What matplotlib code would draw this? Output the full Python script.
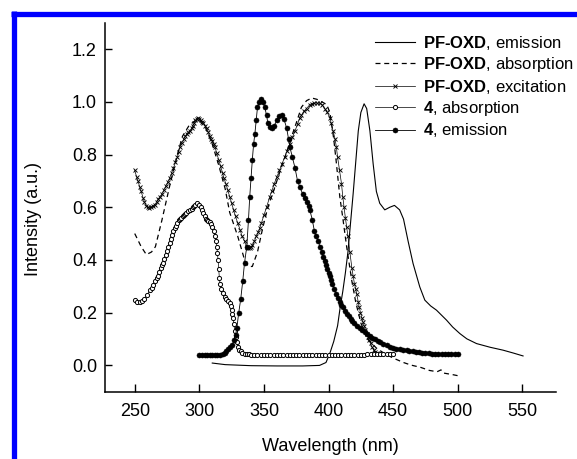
import matplotlib
matplotlib.use("Agg")
import matplotlib.pyplot as plt
from matplotlib.lines import Line2D

plt.rcParams['font.family'] = ['Liberation Sans', 'DejaVu Sans']
plt.rcParams['mathtext.fontset'] = 'custom'
plt.rcParams['mathtext.rm'] = 'Liberation Sans'
plt.rcParams['mathtext.bf'] = 'Liberation Sans:bold'

# PF-OXD, emission
pf_em_x = [310, 320, 340, 360, 380, 393, 398, 401, 404, 407, 409, 411, 413, 415, 417, 419, 421, 423,
           425, 427.5, 429.5, 432, 434.5, 437, 439.6, 443.5, 447.4, 451, 455, 458, 461.6, 465.4, 470.6,
           474.5, 479, 483.5, 491.3, 496, 501.6, 507, 514.5, 525, 535, 543, 550.5]
pf_em_y = [0.008, 0.002, -0.002, -0.003, -0.003, -0.001, 0.01, 0.045, 0.09, 0.15, 0.22, 0.28, 0.35,
           0.43, 0.54, 0.65, 0.77, 0.89, 0.96, 0.993, 0.975, 0.89, 0.765, 0.66, 0.615, 0.59, 0.60,
           0.607, 0.59, 0.555, 0.47, 0.386, 0.297, 0.247, 0.225, 0.209, 0.171, 0.145, 0.12, 0.10,
           0.082, 0.068, 0.057, 0.046, 0.035]

# PF-OXD, absorption
pf_abs_x = [250, 255, 259, 263, 266, 271, 277, 283, 287, 292, 297, 300, 305, 310, 315, 320, 323.5,
            329.7, 335, 338, 341, 345, 349, 353, 358, 362, 367, 371.5, 375, 379, 383, 387, 391, 395,
            398.6, 401, 404, 406, 408.7, 411, 414, 418, 421, 425, 430, 437, 443, 450, 458, 464, 471,
            478, 484, 487, 489, 496, 500]
pf_abs_y = [0.50, 0.45, 0.42, 0.43, 0.45, 0.55, 0.68, 0.80, 0.87, 0.91, 0.93, 0.93, 0.90, 0.84, 0.76,
            0.67, 0.58, 0.49, 0.40, 0.375, 0.375, 0.43, 0.52, 0.60, 0.67, 0.73, 0.80, 0.87, 0.92, 0.98,
            1.005, 1.015, 1.01, 1.0, 0.99, 0.96, 0.86, 0.77, 0.64, 0.56, 0.45, 0.32, 0.24, 0.16, 0.10,
            0.065, 0.045, 0.027, 0.01, 0.0, -0.008, -0.02, -0.025, -0.018, -0.03, -0.036, -0.04]

# PF-OXD, excitation
pf_exc_x = [250, 251.5, 252.5, 254, 255, 256.5, 257.5, 259, 260, 261,
            262.5, 264, 265.5, 267, 268, 269.5, 271, 272.5, 274, 275.5,
            277, 278.5, 280, 281.5, 283, 284, 285, 286.5, 288, 289,
            290.5, 291.5, 292.6, 294, 295, 296, 297, 298, 299, 300,
            301, 302, 303, 304.5, 305.7, 307, 308, 309, 310, 311,
            312, 313.5, 315, 316.5, 318, 319, 320.5, 322, 323.5, 325,
            326.5, 328, 329.7, 331.5, 333, 335, 336.7, 338, 339, 340,
            341, 342.5, 344, 345.5, 346.7, 348, 350, 352, 354.5, 356,
            358, 360, 362, 364, 366, 368, 370, 372, 374, 376,
            377.7, 379, 381, 383, 385.5, 387, 389, 391, 393, 395,
            397, 399, 401, 402, 403.5, 405, 406, 407, 408.5, 410,
            411, 412, 413, 414, 415, 416.5, 418, 419, 420, 421,
            421.8, 423, 423.7, 424.7, 425.7, 426.5, 427.6, 428.5, 429.6, 430.5,
            431.5, 432.5, 433.5, 435, 436, 437.5, 439]
pf_exc_y = [0.74, 0.715, 0.70, 0.675, 0.66, 0.635, 0.62, 0.605, 0.60, 0.598,
            0.60, 0.605, 0.61, 0.62, 0.63, 0.64, 0.65, 0.665, 0.68, 0.695,
            0.71, 0.73, 0.75, 0.77, 0.79, 0.81, 0.83, 0.845, 0.86, 0.87,
            0.88, 0.885, 0.89, 0.90, 0.91, 0.92, 0.93, 0.935, 0.94, 0.935,
            0.93, 0.925, 0.92, 0.91, 0.90, 0.885, 0.87, 0.86, 0.85, 0.84,
            0.83, 0.805, 0.78, 0.755, 0.73, 0.71, 0.69, 0.665, 0.64, 0.615,
            0.59, 0.565, 0.54, 0.515, 0.49, 0.47, 0.45, 0.447, 0.445, 0.448,
            0.455, 0.47, 0.49, 0.505, 0.52, 0.54, 0.57, 0.60, 0.64, 0.66,
            0.69, 0.715, 0.74, 0.765, 0.79, 0.815, 0.84, 0.865, 0.89, 0.915,
            0.94, 0.95, 0.965, 0.975, 0.99, 0.993, 0.995, 0.996, 0.995, 0.99,
            0.975, 0.96, 0.94, 0.92, 0.89, 0.86, 0.83, 0.79, 0.74, 0.69,
            0.64, 0.60, 0.56, 0.525, 0.49, 0.43, 0.37, 0.34, 0.31, 0.29,
            0.27, 0.24, 0.22, 0.20, 0.18, 0.165, 0.15, 0.135, 0.12, 0.108,
            0.095, 0.083, 0.07, 0.058, 0.05, 0.045, 0.042]

# 4, absorption
c4_abs_x = [250, 252, 254, 256, 257.5, 259.5, 261.6, 263, 264.5, 266,
            267, 268, 269, 270, 271, 272, 273, 274, 275, 276,
            277, 278, 279, 280, 281, 282, 283, 284, 285, 286,
            287, 288, 289, 290, 291, 292.6, 294, 295, 296, 297,
            298.5, 300, 301, 302, 303, 304, 305, 306, 307, 308,
            309, 310, 311, 312, 313, 313.5, 314, 314.5, 315, 315.5,
            316, 317, 318, 319.7, 321, 322, 323.5, 324.5, 325, 325.5,
            326, 326.7, 327.4, 328.2, 329, 330, 331, 332, 333, 335,
            336.7, 338.5, 340, 342.5, 345, 347.5, 350, 352.5, 355, 357.5,
            360, 362.5, 365, 367.5, 370, 372.5, 375, 377.5, 380, 382.5,
            385, 387.5, 390, 392.5, 395, 397.5, 400, 402.5, 405, 407.5,
            410, 412.5, 415, 417.5, 420, 422.5, 425, 427.5, 430, 432.5,
            435, 437.5, 440, 442.5, 445, 447.5, 450]
c4_abs_y = [0.247, 0.24, 0.24, 0.245, 0.25, 0.265, 0.285, 0.295, 0.305, 0.32,
            0.33, 0.34, 0.355, 0.37, 0.38, 0.39, 0.405, 0.42, 0.435, 0.45,
            0.465, 0.48, 0.495, 0.51, 0.52, 0.53, 0.54, 0.55, 0.555, 0.56,
            0.565, 0.57, 0.575, 0.58, 0.585, 0.59, 0.595, 0.60, 0.605, 0.61,
            0.615, 0.61, 0.60, 0.59, 0.578, 0.565, 0.557, 0.55, 0.547, 0.545,
            0.538, 0.525, 0.51, 0.49, 0.47, 0.45, 0.425, 0.40, 0.365, 0.33,
            0.31, 0.29, 0.275, 0.26, 0.25, 0.245, 0.235, 0.225, 0.21, 0.195,
            0.18, 0.155, 0.13, 0.108, 0.087, 0.07, 0.057, 0.052, 0.048, 0.044,
            0.042, 0.041, 0.04, 0.04, 0.04, 0.04, 0.04, 0.04, 0.04, 0.04,
            0.04, 0.04, 0.04, 0.04, 0.04, 0.04, 0.04, 0.04, 0.04, 0.04,
            0.04, 0.04, 0.04, 0.04, 0.04, 0.04, 0.04, 0.04, 0.04, 0.04,
            0.04, 0.04, 0.04, 0.04, 0.04, 0.04, 0.04, 0.04, 0.041, 0.041,
            0.042, 0.042, 0.042, 0.043, 0.043, 0.043, 0.043]

# 4, emission
c4_em_x = [300, 302, 304, 306, 308, 310, 312, 314, 316, 318,
           319.5, 321, 322.5, 324, 325.5, 327, 328, 329, 330.5, 332,
           333.6, 335, 336.7, 338, 339, 340, 341, 342, 343, 344,
           345, 346.5, 348, 349.3, 350.6, 352, 353, 354.5, 356, 358,
           360, 362, 363.8, 365.5, 367.6, 369, 370, 372, 374, 376,
           378, 380, 381.5, 383, 384.5, 385.5, 387.5, 389, 390.5, 392,
           393.5, 394.7, 396, 397, 398, 399, 400, 401, 402, 403,
           404.5, 406, 407.5, 409, 410, 411, 412.5, 414, 415.5, 417,
           418.5, 420, 422, 424, 426, 428, 430, 432, 434, 436,
           438, 440, 442.5, 445, 447.5, 450, 452.5, 455, 457.5, 460.5,
           462.5, 465, 467.5, 470, 472.5, 475, 477.5, 480, 482.5, 485,
           487.5, 490, 492.5, 495, 497.5, 500]
c4_em_y = [0.038, 0.038, 0.038, 0.038, 0.038, 0.038, 0.039, 0.039, 0.04, 0.042,
           0.046, 0.052, 0.06, 0.068, 0.077, 0.095, 0.115, 0.14, 0.20, 0.25,
           0.32, 0.39, 0.45, 0.55, 0.64, 0.71, 0.78, 0.84, 0.88, 0.93,
           0.98, 1.0, 1.013, 1.0, 0.98, 0.95, 0.92, 0.905, 0.90, 0.91,
           0.93, 0.945, 0.95, 0.935, 0.90, 0.86, 0.83, 0.79, 0.75, 0.70,
           0.675, 0.65, 0.635, 0.62, 0.605, 0.59, 0.55, 0.51, 0.49, 0.47,
           0.45, 0.43, 0.41, 0.395, 0.38, 0.365, 0.35, 0.34, 0.325, 0.31,
           0.29, 0.27, 0.255, 0.24, 0.23, 0.22, 0.207, 0.195, 0.185, 0.175,
           0.167, 0.16, 0.15, 0.14, 0.132, 0.125, 0.117, 0.11, 0.105, 0.10,
           0.093, 0.087, 0.081, 0.075, 0.07, 0.066, 0.063, 0.06, 0.058, 0.056,
           0.054, 0.052, 0.05, 0.049, 0.047, 0.046, 0.045, 0.044, 0.043, 0.043,
           0.042, 0.042, 0.042, 0.042, 0.042, 0.042]

x_ticks = [250, 300, 350, 400, 450, 500, 550]
y_ticks = [0.0, 0.2, 0.4, 0.6, 0.8, 1.0, 1.2]

fig = plt.figure(figsize=(5.77, 4.59), dpi=100, facecolor='white')
ax = fig.add_axes([105/577, 1-392/459, 451/577, 369/459])

ax.plot(pf_em_x, pf_em_y, color='black', lw=0.8,
        label=r'$\mathbf{PF‐OXD}$, emission')
ax.plot(pf_abs_x, pf_abs_y, color='black', lw=0.9, dashes=(4, 3),
        label=r'$\mathbf{PF‐OXD}$, absorption')
ax.plot(pf_exc_x, pf_exc_y, color='black', lw=0.5, marker='x', ms=3.0, mew=0.65,
        label=r'$\mathbf{PF‐OXD}$, excitation')
ax.plot(c4_abs_x, c4_abs_y, color='black', lw=0.5, marker='o', ms=3.0, mew=0.7, mfc='white',
        label=r'$\mathbf{4}$, absorption')
ax.plot(c4_em_x, c4_em_y, color='black', lw=0.6, marker='o', ms=3.6, mew=0.4,
        label=r'$\mathbf{4}$, emission')

ax.set_xlim(227, 576)
ax.set_ylim(-0.102, 1.30)
ax.set_xticks(x_ticks)
ax.set_yticks(y_ticks)
ax.set_yticklabels(['%.1f' % v for v in y_ticks])
ax.tick_params(axis='both', direction='in', labelsize=13, width=1.0, colors='black')
ax.tick_params(axis='y', length=5, pad=5.8)
ax.tick_params(axis='x', length=6, pad=8)
for s in ['top', 'right']:
    ax.spines[s].set_visible(False)
for s in ['left', 'bottom']:
    ax.spines[s].set_linewidth(1.1)

ax.set_xlabel('Wavelength (nm)', fontsize=13)
ax.set_ylabel('Intensity (a.u.)', fontsize=13)
ax.xaxis.set_label_coords(0.5, -0.125)
ax.yaxis.set_label_coords(-0.14, 0.47)

leg = ax.legend(loc='upper left', bbox_to_anchor=(375/577, 1-34/459),
                bbox_transform=fig.transFigure, frameon=False, fontsize=12,
                handlelength=2.4, handletextpad=0.5, labelspacing=0.2,
                borderpad=0, borderaxespad=0, numpoints=1)

# blue frame on top and left edges
fig.add_artist(Line2D([11/577, 1], [1-13.5/459, 1-13.5/459], color='#0000ff', lw=3.8,
                      transform=fig.transFigure, solid_capstyle='butt'))
fig.add_artist(Line2D([13.5/577, 13.5/577], [0, 1-11/459], color='#0000ff', lw=3.8,
                      transform=fig.transFigure, solid_capstyle='butt'))

fig.savefig('out.png', dpi=100, facecolor='white')
